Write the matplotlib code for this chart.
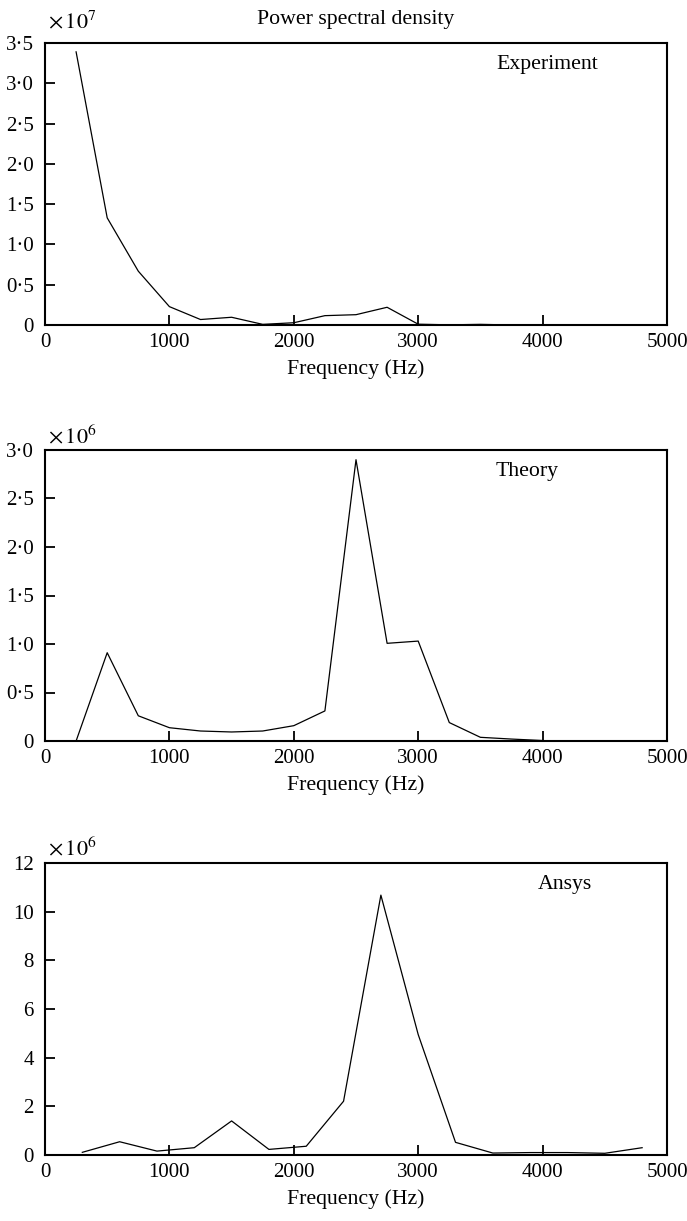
import matplotlib
matplotlib.use("Agg")
import matplotlib.pyplot as plt
from matplotlib.ticker import FuncFormatter, MultipleLocator

plt.rcParams['font.family'] = ['Liberation Serif', 'DejaVu Serif']
plt.rcParams['mathtext.fontset'] = 'stix'

# ---- data ----
exp_freq = [250, 500, 750, 1000, 1250, 1500, 1750, 2000, 2250, 2500, 2750, 3000, 3250, 3500, 3750]
exp_psd = [3.39e7, 1.33e7, 0.668e7, 0.228e7, 0.068e7, 0.096e7, 0.008e7, 0.028e7, 0.116e7,
           0.128e7, 0.22e7, 0.01e7, 0.002e7, 0.008e7, 0.0]

theory_freq = [250, 500, 750, 1000, 1250, 1500, 1750, 2000, 2250, 2500, 2750, 3000, 3250,
               3500, 3750, 4000]
theory_psd = [0.0, 0.91e6, 0.26e6, 0.137e6, 0.103e6, 0.093e6, 0.103e6, 0.158e6, 0.31e6,
              2.90e6, 1.007e6, 1.03e6, 0.19e6, 0.038e6, 0.02e6, 0.005e6]

ansys_freq = [300, 600, 900, 1200, 1500, 1800, 2100, 2400, 2700, 3000, 3300, 3600, 3900,
              4200, 4500, 4800]
ansys_psd = [0.11e6, 0.545e6, 0.16e6, 0.30e6, 1.40e6, 0.23e6, 0.36e6, 2.21e6, 10.68e6,
             4.95e6, 0.52e6, 0.08e6, 0.1e6, 0.1e6, 0.07e6, 0.3e6]

x_ticks = [0, 1000, 2000, 3000, 4000, 5000]
xlabel = "Frequency (Hz)"
title = "Power spectral density"

W, H = 687, 1221
fig = plt.figure(figsize=(W / 100, H / 100), dpi=100)

FS = 15
LFS = 15.7


def px_axes(left, top, right, bottom):
    return fig.add_axes([left / W, 1 - bottom / H, (right - left) / W, (bottom - top) / H])


def dot_fmt(scale, decimals):
    def f(v, pos):
        u = v / scale
        if abs(u) < 1e-9:
            return "0"
        if decimals == 0:
            return "%d" % round(u)
        return ("%.*f" % (decimals, u)).replace(".", "\u00b7")
    return FuncFormatter(f)


def style(ax, ymax, ystep, scale, decimals, exp, exp_off, label, label_x):
    ax.set_xlim(0, 5000)
    ax.set_ylim(0, ymax)
    ax.set_xticks(x_ticks)
    ax.yaxis.set_major_locator(MultipleLocator(ystep))
    ax.yaxis.set_major_formatter(dot_fmt(scale, decimals))
    ax.tick_params(direction='in', length=7, width=1.3, labelsize=FS, top=False, right=False)
    ax.tick_params(axis='x', pad=6)
    ax.tick_params(axis='y', pad=8)
    for s in ax.spines.values():
        s.set_linewidth(1.5)
    ax.set_xlabel(xlabel, fontsize=LFS, labelpad=5)
    ax.annotate(r"$\times\,10^{%d}$" % exp, xy=(0.005, 1.0), xycoords='axes fraction',
                xytext=(0, exp_off), textcoords='offset points',
                fontsize=FS + 1, ha='left', va='bottom')
    ax.text(label_x, 0.925, label, transform=ax.transAxes, fontsize=LFS, ha='left',
            va='center')


ax1 = px_axes(45, 43, 667, 325)
ax1.plot(exp_freq, exp_psd, color='black', lw=0.9)
style(ax1, 3.5e7, 0.5e7, 1e7, 1, 7, 7, "Experiment", 0.725)
ax1.set_title(title, fontsize=LFS, pad=14)

ax2 = px_axes(45, 450, 667, 741)
ax2.plot(theory_freq, theory_psd, color='black', lw=0.9)
style(ax2, 3.0e6, 0.5e6, 1e6, 1, 6, 1, "Theory", 0.725)

ax3 = px_axes(45, 863, 667, 1155)
ax3.plot(ansys_freq, ansys_psd, color='black', lw=0.9)
style(ax3, 12e6, 2e6, 1e6, 0, 6, 2, "Ansys", 0.792)

fig.savefig("out.png", dpi=100)
